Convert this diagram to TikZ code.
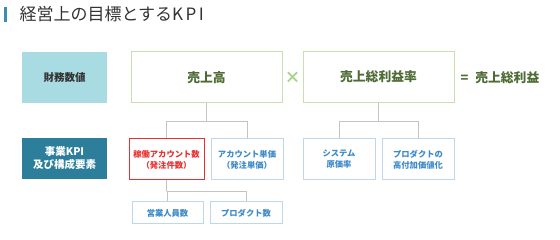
\documentclass[tikz,border=0pt]{standalone}
\usepackage{fontspec}
\setmainfont{Noto Sans CJK JP}
\usetikzlibrary{calc}

\definecolor{barblue}{HTML}{3A8FB0}
\definecolor{paleblue}{HTML}{A9DBE3}
\definecolor{deepblue}{HTML}{2C7E9A}
\definecolor{kpigreen}{HTML}{C6E0B4}
\definecolor{kpicross}{HTML}{A9D18E}
\definecolor{kpigreentext}{HTML}{4F6B35}
\definecolor{kpired}{HTML}{E8312F}
\definecolor{boxblue}{HTML}{BDD7EE}
\definecolor{boxbluetext}{HTML}{3D8AC9}
\definecolor{linegray}{HTML}{C4C4C4}

\begin{document}
\begin{tikzpicture}[x=1pt, y=-1pt,
  rowhead/.style={minimum width=85pt, align=center, font=\fontsize{10.5}{13}\selectfont\bfseries},
  goalbox/.style={draw=kpigreen, line width=1pt, fill=white, minimum width=151pt, minimum height=51pt,
    text=kpigreentext, font=\fontsize{12.8}{15}\selectfont\bfseries},
  kpibox/.style={draw=boxblue, line width=1pt, fill=white, minimum width=72pt, minimum height=41pt,
    align=center, text=boxbluetext, font=\fontsize{8.3}{11}\selectfont\bfseries},
  subbox/.style={kpibox, minimum height=22pt},
  conn/.style={draw=linegray, line width=0.9pt}]

\useasboundingbox (0,0) rectangle (560,240);

% title
\fill[barblue] (4,7) rectangle (7,22);
\node[anchor=west, text=black!80, font=\fontsize{17}{19}\selectfont] (title) at (16,14.5) {経営上の目標とするK\hspace{2.5pt}P\hspace{2.5pt}I};

% row heads
\node[rowhead, fill=paleblue, minimum height=51pt, text=black!80] (zaimu) at (64.5,77.5) {財務数値};
\node[rowhead, fill=deepblue, minimum height=41pt, text=white] (jigyo) at (64.5,158.5) {事業KPI\\及び構成要素};

% financial figures
\node[goalbox] (uri) at (206.5,77.5) {売上高};
\node[goalbox] (ritsu) at (378.5,77) {売上総利益率};
\node[text=kpicross, font=\fontsize{16}{16}\selectfont\bfseries] (batsu) at (292.5,77.5) {×};
\node[anchor=west, text=kpigreentext, font=\fontsize{12.8}{15}\selectfont\bfseries] (rieki) at (457,78) {=\hspace{7pt}売上総利益};

% business kpi
\node[kpibox, draw=kpired, text=kpired, minimum width=75pt] (kado) at (166.5,159.5) {稼働アカウント数\\（発注件数）};
\node[kpibox] (tanka) at (247,159.5) {アカウント単価\\（発注単価）};
\node[kpibox] (genka) at (339,159.5) {システム\\原価率};
\node[kpibox] (fuka) at (418,159.5) {プロダクトの\\高付加価値化};

\node[subbox, minimum width=71pt] (eigyo) at (167.5,213) {営業人員数};
\node[subbox] (seihin) at (246,213) {プロダクト数};

% connectors
\coordinate (j1) at (uri.south |- 0,121.5);
\coordinate (j2) at (ritsu.south |- 0,121.5);
\coordinate (j3) at (kado.south |- 0,191.5);

\draw[conn] (uri.south) -- (j1);
\draw[conn] (kado.north) |- (j1) -| (tanka.north);
\draw[conn] (ritsu.south) -- (j2);
\draw[conn] (genka.north) |- (j2) -| (fuka.north);
\draw[conn] (kado.south) -- (j3);
\draw[conn] (eigyo.north) |- (j3) -| (seihin.north);

\end{tikzpicture}
\end{document}
